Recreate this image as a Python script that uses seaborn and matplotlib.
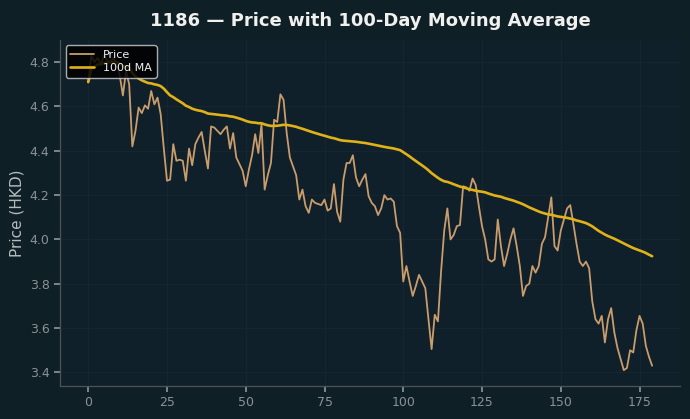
import pandas as pd
import matplotlib
matplotlib.use("Agg")
import matplotlib.pyplot as plt
import seaborn as sns

# 数据：日序号与收盘价
ticker = "1186"
window = 100
price = [
    4.71, 4.83, 4.80, 4.82, 4.79, 4.83, 4.81, 4.80, 4.82, 4.79,
    4.74, 4.65, 4.76, 4.70, 4.42, 4.49, 4.595, 4.57, 4.605, 4.59,
    4.67, 4.61, 4.64, 4.565, 4.41, 4.265, 4.27, 4.43, 4.355, 4.36,
    4.355, 4.265, 4.41, 4.335, 4.43, 4.46, 4.485, 4.40, 4.32, 4.51,
    4.505, 4.49, 4.475, 4.495, 4.51, 4.41, 4.48, 4.37, 4.34, 4.31,
    4.24, 4.315, 4.38, 4.475, 4.39, 4.52, 4.225, 4.29, 4.345, 4.54,
    4.53, 4.655, 4.63, 4.48, 4.37, 4.33, 4.29, 4.18, 4.225, 4.15,
    4.12, 4.18, 4.165, 4.16, 4.155, 4.18, 4.13, 4.14, 4.25, 4.125,
    4.08, 4.27, 4.345, 4.345, 4.38, 4.28, 4.24, 4.27, 4.295, 4.195,
    4.165, 4.15, 4.11, 4.14, 4.20, 4.18, 4.185, 4.17, 4.06, 4.03,
    3.81, 3.88, 3.81, 3.745, 3.79, 3.84, 3.81, 3.78, 3.64, 3.505,
    3.66, 3.63, 3.855, 4.04, 4.14, 4.00, 4.02, 4.06, 4.065, 4.24,
    4.235, 4.22, 4.275, 4.245, 4.15, 4.06, 4.00, 3.91, 3.90, 3.91,
    4.09, 3.97, 3.88, 3.935, 4.00, 4.05, 3.97, 3.88, 3.745, 3.79,
    3.80, 3.88, 3.85, 3.88, 3.98, 4.01, 4.10, 4.19, 3.97, 3.95,
    4.04, 4.09, 4.14, 4.155, 4.07, 3.98, 3.90, 3.88, 3.90, 3.87,
    3.72, 3.64, 3.62, 3.655, 3.535, 3.64, 3.69, 3.58, 3.51, 3.46,
    3.41, 3.42, 3.50, 3.49, 3.59, 3.655, 3.62, 3.52, 3.47, 3.43,
]
day = list(range(len(price)))

df = pd.DataFrame({"Day": day, "Price": price})
df["MA"] = df["Price"].rolling(window, min_periods=1).mean()

# 配色
bg = "#0f1f26"
price_color = "#c99c6c"
ma_color = "#e0b21a"

sns.set_theme(style="dark")
plt.rcParams["font.family"] = ["DejaVu Sans"]

fig, ax = plt.subplots(figsize=(6.9, 4.19), dpi=100)
fig.patch.set_facecolor(bg)
ax.set_facecolor("#10202a")
fig.subplots_adjust(left=0.087, right=0.986, bottom=0.079, top=0.905)

sns.lineplot(data=df, x="Day", y="Price", color=price_color, linewidth=1.3, label="Price", ax=ax)
sns.lineplot(data=df, x="Day", y="MA", color=ma_color, linewidth=1.9, label=f"{window}d MA", ax=ax)

ax.set_title(f"{ticker} — Price with {window}-Day Moving Average",
             color="#f0f0ee", fontsize=13, fontweight="bold", pad=10)
ax.set_xlabel("")
ax.set_ylabel("Price (HKD)", color="#b5bcc0", fontsize=11)
ax.set_xticks([0, 25, 50, 75, 100, 125, 150, 175])
ax.tick_params(colors="#8a9296", labelsize=9, length=4, left=True, bottom=True)
ax.grid(True, color="#172730", linewidth=0.7)

for side in ["top", "right"]:
    ax.spines[side].set_visible(False)
for side in ["left", "bottom"]:
    ax.spines[side].set_color("#4a5458")
    ax.spines[side].set_linewidth(0.9)

leg = ax.legend(loc="upper left", fontsize=8, frameon=True, borderpad=0.4,
                handlelength=2.2, labelspacing=0.3)
leg.get_frame().set_facecolor("#000000")
leg.get_frame().set_alpha(0.85)
leg.get_frame().set_edgecolor("#c8c8c8")
for t in leg.get_texts():
    t.set_color("#f2f2f2")

plt.savefig("out.png", dpi=100, facecolor=bg)
plt.close()
